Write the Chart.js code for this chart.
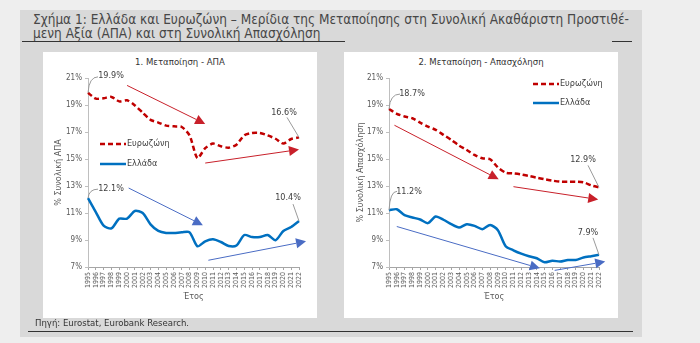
<!DOCTYPE html>
<html>
<head>
<meta charset="utf-8">
<script src="https://cdn.jsdelivr.net/npm/chart.js@4/dist/chart.umd.min.js"></script>
<style>
    body { margin: 0; width: 700px; height: 343px; background: #eeeeee; position: relative; overflow: hidden;
           font-family: "Liberation Sans Narrow", "DejaVu Sans Condensed", sans-serif; color: #3a3a3a; }
    #moldura { position: absolute; left: 20px; top: 10px; width: 622px; height: 327px; background: #d9d9d9; }
    #titulo { position: absolute; left: 33px; top: 12px; font-size: 13.5px; line-height: 14px; color: #474747; }
    .risco { position: absolute; height: 1px; background: #333; }
    .painel { position: absolute; top: 52px; width: 274px; height: 266px; background: #fff; }
    .painel h2 { position: absolute; left: 0; right: 0; top: 4px; margin: 0; text-align: center;
                 font-weight: normal; font-size: 9.5px; color: #333; }
    .painel canvas { position: absolute; left: 0; top: 0; }
    #fonte { position: absolute; left: 35px; top: 317px; font-size: 9.5px; color: #333; }
</style>
</head>
<body>
<div id="moldura"></div>
<div id="titulo">Σχήμα 1: Ελλάδα και Ευρωζώνη – Μερίδια της Μεταποίησης στη Συνολική Ακαθάριστη Προστιθέ-<br>μενη Αξία (ΑΠΑ) και στη Συνολική Απασχόληση</div>
<div class="risco" style="left:22px; top:41px; width:323px;"></div>
<div class="risco" style="left:612px; top:41px; width:20px;"></div>

<div class="painel" style="left:43px;">
    <h2>1. Μεταποίηση - ΑΠΑ</h2>
    <canvas id="grafico-apa" width="274" height="266"></canvas>
</div>
<div class="painel" style="left:344px;">
    <h2>2. Μεταποίηση - Απασχόληση</h2>
    <canvas id="grafico-apasx" width="274" height="266"></canvas>
</div>

<div id="fonte">Πηγή: Eurostat, Eurobank Research.</div>
<div class="risco" style="left:28px; top:331px; width:605px;"></div>

<script>
// ---------------------
// Dados
// ---------------------
const anos = ['1995', '1996', '1997', '1998', '1999', '2000', '2001', '2002', '2003', '2004',
              '2005', '2006', '2007', '2008', '2009', '2010', '2011', '2012', '2013', '2014',
              '2015', '2016', '2017', '2018', '2019', '2020', '2021', '2022'];

// Μεταποίηση - ΑΠΑ (% συνολικής ΑΠΑ)
const ezApa = [19.9, 19.47, 19.5, 19.6, 19.27, 19.35, 18.97, 18.43, 17.9, 17.7,
               17.47, 17.42, 17.37, 16.75, 15.07, 15.8, 16.14, 15.94, 15.84, 16.06,
               16.75, 16.93, 16.93, 16.75, 16.5, 16.14, 16.48, 16.6];
const grApa = [12.1, 11.07, 10.06, 9.86, 10.58, 10.58, 11.15, 11.0, 10.16, 9.67,
               9.52, 9.52, 9.57, 9.57, 8.53, 8.9, 9.05, 8.85, 8.56, 8.6,
               9.37, 9.22, 9.22, 9.37, 8.98, 9.67, 9.96, 10.4];

// Μεταποίηση - Απασχόληση (% συνολικής απασχόλησης)
const ezApasx = [18.7, 18.35, 18.15, 18.02, 17.7, 17.4, 17.16, 16.79, 16.42, 16.0,
                 15.67, 15.3, 15.05, 14.98, 14.38, 13.99, 13.94, 13.86, 13.74, 13.62,
                 13.5, 13.4, 13.32, 13.32, 13.32, 13.27, 13.05, 12.9];
const grApasx = [11.2, 11.28, 10.84, 10.67, 10.52, 10.25, 10.74, 10.5, 10.17, 9.92,
                 10.17, 10.05, 9.8, 10.12, 9.73, 8.54, 8.24, 7.99, 7.8, 7.65,
                 7.35, 7.47, 7.4, 7.52, 7.52, 7.7, 7.8, 7.9];

const yTicks = [7, 9, 11, 13, 15, 17, 19, 21];

// Setas de tendência (ano, valor)
const setasApa = [
    { de: [2000, 20.45], ate: [2010, 17.6], cor: '#c8202a' },
    { de: [2010, 14.7], ate: [2022, 15.7], cor: '#c8202a' },
    { de: [2000.2, 12.85], ate: [2009.7, 10.1], cor: '#4a6cc4' },
    { de: [2010.4, 7.5], ate: [2022.9, 8.9], cor: '#4a6cc4' }
];
const setasApasx = [
    { de: [1995.7, 17.5], ate: [2009.1, 13.5], cor: '#c8202a' },
    { de: [2011, 12.95], ate: [2021.9, 12.0], cor: '#c8202a' },
    { de: [1996, 10.0], ate: [2014.4, 6.9], cor: '#4a6cc4' },
    { de: [2016.3, 6.75], ate: [2022.8, 7.4], cor: '#4a6cc4' }
];

// ---------------------
// Configurações
// ---------------------
const COR_EZ = '#c00000';
const COR_GR = '#0070c0';

Chart.defaults.font.family = '"Liberation Sans Narrow", "DejaVu Sans Condensed", sans-serif';
Chart.defaults.color = '#595959';

// ---------------------
// Plugin: setas, rótulos e legenda
// ---------------------
const extrasPlugin = {
    id: 'extras',
    afterDatasetsDraw(chart, args, opts) {
        const { ctx, scales: { x, y } } = chart;
        const px = ano => x.getPixelForValue(ano - 1995);
        ctx.save();

        // Setas
        opts.setas.forEach(s => {
            const x1 = px(s.de[0]), y1 = y.getPixelForValue(s.de[1]);
            const x2 = px(s.ate[0]), y2 = y.getPixelForValue(s.ate[1]);
            const ang = Math.atan2(y2 - y1, x2 - x1);
            const comp = 10, larg = 5;
            ctx.strokeStyle = s.cor;
            ctx.fillStyle = s.cor;
            ctx.lineWidth = 1;
            ctx.beginPath();
            ctx.moveTo(x1, y1);
            ctx.lineTo(x2 - comp * Math.cos(ang), y2 - comp * Math.sin(ang));
            ctx.stroke();
            ctx.beginPath();
            ctx.moveTo(x2, y2);
            ctx.lineTo(x2 - comp * Math.cos(ang) + larg * Math.sin(ang), y2 - comp * Math.sin(ang) - larg * Math.cos(ang));
            ctx.lineTo(x2 - comp * Math.cos(ang) - larg * Math.sin(ang), y2 - comp * Math.sin(ang) + larg * Math.cos(ang));
            ctx.closePath();
            ctx.fill();
        });

        // Rótulos de valores
        ctx.font = '9px ' + Chart.defaults.font.family;
        ctx.textAlign = 'center';
        ctx.textBaseline = 'middle';
        opts.rotulos.forEach(r => {
            const ponto = chart.getDatasetMeta(r.ds).data[r.idx];
            const valor = chart.data.datasets[r.ds].data[r.idx];
            ctx.strokeStyle = '#9a9a9a';
            ctx.lineWidth = 1;
            ctx.beginPath();
            ctx.moveTo(ponto.x, ponto.y);
            if (r.curva) {
                ctx.quadraticCurveTo(ponto.x + 1, ponto.y + r.fim[1], ponto.x + r.fim[0], ponto.y + r.fim[1]);
            } else {
                ctx.lineTo(ponto.x + r.fim[0], ponto.y + r.fim[1]);
            }
            ctx.stroke();
            ctx.fillStyle = '#404040';
            ctx.fillText(valor.toFixed(1) + '%', ponto.x + r.dx, ponto.y + r.dy);
        });

        // Legenda
        ctx.textAlign = 'left';
        ctx.font = '9px ' + Chart.defaults.font.family;
        chart.data.datasets.forEach((d, i) => {
            const lx = opts.legenda.x, ly = opts.legenda.y + i * opts.legenda.passo;
            ctx.strokeStyle = d.borderColor;
            ctx.lineWidth = 2.5;
            ctx.setLineDash(d.borderDash || []);
            ctx.beginPath();
            ctx.moveTo(lx, ly);
            ctx.lineTo(lx + 26, ly);
            ctx.stroke();
            ctx.setLineDash([]);
            ctx.fillStyle = '#404040';
            ctx.fillText(d.label, lx + 27, ly);
        });
        ctx.restore();
    }
};

// ---------------------
// Gráfico genérico
// ---------------------
function criarGrafico(id, dadosEz, dadosGr, tituloY, extras, margem) {
    const ctx = document.getElementById(id).getContext('2d');
    return new Chart(ctx, {
        type: 'line',
        data: {
            labels: anos,
            datasets: [{
                label: 'Ευρωζώνη',
                data: dadosEz,
                borderColor: COR_EZ,
                borderWidth: 2.5,
                borderDash: [5, 3],
                pointRadius: 0,
                tension: 0.25
            }, {
                label: 'Ελλάδα',
                data: dadosGr,
                borderColor: COR_GR,
                borderWidth: 2.5,
                pointRadius: 0,
                tension: 0.25
            }]
        },
        options: {
            responsive: false,
            animation: false,
            layout: { padding: { top: 26, right: margem.direita, left: 0, bottom: 0 } },
            plugins: {
                legend: { display: false },
                tooltip: { enabled: false },
                extras
            },
            scales: {
                x: {
                    grid: { drawOnChartArea: false, color: '#a6a6a6', tickLength: 3 },
                    border: { color: '#a6a6a6' },
                    ticks: { autoSkip: false, minRotation: 90, maxRotation: 90, padding: 2,
                             font: { size: 7 }, color: '#595959' },
                    title: { display: true, text: 'Έτος', font: { size: 9 }, color: '#595959',
                             padding: { top: 0, bottom: 16 } },
                    afterFit: s => { s.height = 51; }
                },
                y: {
                    min: 7,
                    max: 21,
                    afterBuildTicks: s => { s.ticks = yTicks.map(v => ({ value: v })); },
                    grid: { drawOnChartArea: false, color: '#bfbfbf', tickLength: 3 },
                    border: { color: '#bfbfbf' },
                    ticks: { callback: v => v + '%', font: { size: 8 }, color: '#595959', padding: 3 },
                    title: { display: true, text: tituloY, font: { size: 9 }, color: '#595959',
                             padding: { top: margem.tituloY, bottom: 0 } },
                    afterFit: s => { s.width = margem.esquerda; }
                }
            }
        },
        plugins: [extrasPlugin]
    });
}

// ---------------------
// Inicialização
// ---------------------
criarGrafico('grafico-apa', ezApa, grApa, '% Συνολική ΑΠΑ', {
    setas: setasApa,
    rotulos: [
        { ds: 0, idx: 0, dx: 23, dy: -17, fim: [10, -16], curva: true },
        { ds: 0, idx: 27, dx: -15, dy: -25, fim: [-12, -20] },
        { ds: 1, idx: 0, dx: 23, dy: -9, fim: [10, -9], curva: true },
        { ds: 1, idx: 27, dx: -11, dy: -23, fim: [-6, -17] }
    ],
    legenda: { x: 57, y: 92, passo: 20 }
}, { esquerda: 45, direita: 18, tituloY: 10 });

criarGrafico('grafico-apasx', ezApasx, grApasx, '% Συνολική Απασχόληση', {
    setas: setasApasx,
    rotulos: [
        { ds: 0, idx: 0, dx: 23, dy: -15, fim: [11, -15], curva: true },
        { ds: 0, idx: 27, dx: -16, dy: -28, fim: [-11, -22] },
        { ds: 1, idx: 0, dx: 20, dy: -19, fim: [8, -19], curva: true },
        { ds: 1, idx: 27, dx: -11, dy: -22, fim: [-6, -17] }
    ],
    legenda: { x: 189, y: 32, passo: 19 }
}, { esquerda: 45, direita: 19, tituloY: 11 });
</script>
</body>
</html>
